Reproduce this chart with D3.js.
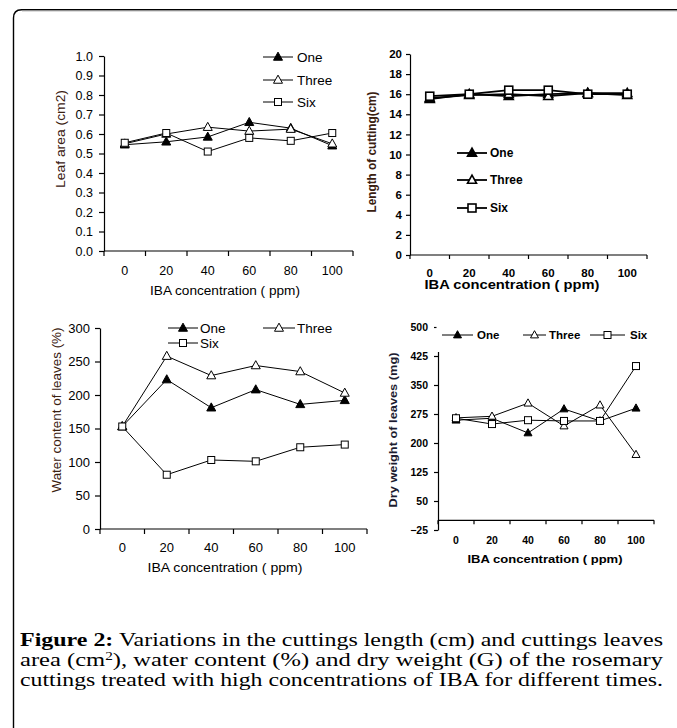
<!DOCTYPE html>
<html>
<head>
<meta charset="utf-8">
<script src="https://cdn.jsdelivr.net/npm/d3@7"></script>
<style>
  html, body { margin: 0; padding: 0; background: #fff; }
  svg { display: block; }
</style>
</head>
<body>
<svg id="fig" width="677" height="728"></svg>
<script>
// IBA concentrations (ppm) and treatment durations
const concentrations = ["0", "20", "40", "60", "80", "100"];
const seriesNames = ["One", "Three", "Six"];

// Leaf area (cm2)
const leafAreaOne   = [0.545, 0.56, 0.585, 0.66, 0.63, 0.54];
const leafAreaThree = [0.55, 0.60, 0.635, 0.615, 0.625, 0.55];
const leafAreaSix   = [0.555, 0.605, 0.51, 0.58, 0.565, 0.605];
const leafAreaTicks = [0, 0.1, 0.2, 0.3, 0.4, 0.5, 0.6, 0.7, 0.8, 0.9, 1.0];

// Length of cutting (cm)
const lengthOne   = [15.5, 16.0, 15.8, 16.0, 16.1, 15.9];
const lengthThree = [15.6, 15.9, 16.0, 15.8, 16.1, 16.1];
const lengthSix   = [15.8, 16.0, 16.4, 16.4, 16.0, 16.0];
const lengthTicks = [0, 2, 4, 6, 8, 10, 12, 14, 16, 18, 20];

// Water content of leaves (%)
const waterOne   = [153, 223, 181, 208, 186, 192];
const waterThree = [153, 258, 229, 244, 235, 203];
const waterSix   = [153, 81, 103, 101, 122, 126];
const waterTicks = [0, 50, 100, 150, 200, 250, 300];

// Dry weight of leaves (mg)
const dryOne   = [259, 264, 226, 288, 257, 290];
const dryThree = [265, 269, 303, 244, 298, 170];
const drySix   = [264, 249, 259, 257, 257, 399];
const dryTicks = [-25, 50, 125, 200, 275, 350, 425, 500];

const svg = d3.select("#fig");
const SANS = "'Liberation Sans', Arial, sans-serif";

// Page frame: left and top rules with a rounded corner
svg.append("path")
  .attr("d", "M13.5,728 V18 Q13.5,9.75 21.5,9.75 H677")
  .attr("fill", "none").attr("stroke", "#000").attr("stroke-width", 1.4);
svg.append("line").attr("x1", 22).attr("x2", 677).attr("y1", 11).attr("y2", 11)
  .attr("stroke", "#aaa").attr("stroke-width", 0.8);

function marker(g, kind, cx, cy, s) {
  if (kind === "One" || kind === "Three") {
    const w = s.tri, h = s.tri * 0.9;
    g.append("path")
      .attr("d", `M${cx},${cy - h * 0.6} L${cx + w / 2},${cy + h * 0.4} L${cx - w / 2},${cy + h * 0.4} Z`)
      .attr("fill", kind === "One" ? "#000" : "#fff")
      .attr("stroke", "#000").attr("stroke-width", s.mw);
  } else {
    g.append("rect")
      .attr("x", cx - s.sq / 2).attr("y", cy - s.sq / 2)
      .attr("width", s.sq).attr("height", s.sq)
      .attr("fill", "#fff").attr("stroke", "#000").attr("stroke-width", s.mw);
  }
}

function drawPanel(o) {
  const g = svg.append("g");
  const x = d3.scaleBand().domain(concentrations).range([o.x0, o.x1]);
  const bw = x.bandwidth();
  const y = d3.scaleLinear().domain(o.yDomain).range([o.yBottom, o.yTop]);
  const axisY = y(o.xCross);
  const weight = o.bold ? "bold" : "normal";

  // series lines and markers
  const line = d3.line().x((d, i) => x(concentrations[i]) + bw / 2).y(d => y(d));
  o.series.forEach((vals, k) => {
    g.append("path").attr("d", line(vals)).attr("fill", "none")
      .attr("stroke", "#000").attr("stroke-width", o.lw);
  });
  o.series.forEach((vals, k) => {
    vals.forEach((v, i) => marker(g, seriesNames[k], x(concentrations[i]) + bw / 2, y(v), o));
  });

  // y axis
  const ya = g.append("g").attr("transform", `translate(${o.x0},0)`)
    .call(d3.axisLeft(y).tickValues(o.ticks).tickSize(o.tickLen).tickSizeOuter(0)
      .tickPadding(o.pad).tickFormat(o.fmt));
  ya.select(".domain").attr("stroke", "#000").attr("stroke-width", 1.2);
  ya.selectAll(".tick line").attr("stroke", "#000").attr("stroke-width", 1.2);
  ya.selectAll(".tick text").attr("font-family", SANS).attr("font-size", o.fs)
    .attr("font-weight", weight).attr("fill", "#000");
  ya.attr("font-family", null).attr("font-size", null);

  if (o.legendBox) {
    // legend box sits over the top of the axis
    g.append("rect").attr("x", o.legendBox[0]).attr("y", o.legendBox[1])
      .attr("width", o.legendBox[2]).attr("height", o.legendBox[3]).attr("fill", "#fff");
  }

  // x axis: ticks at category boundaries, labels at centres
  g.append("line").attr("x1", o.x0).attr("x2", o.x1).attr("y1", axisY).attr("y2", axisY)
    .attr("stroke", "#000").attr("stroke-width", 1.2);
  const bounds = concentrations.map(c => x(c)).concat([o.x1]);
  g.selectAll(null).data(bounds).enter().append("line")
    .attr("x1", d => d).attr("x2", d => d).attr("y1", axisY).attr("y2", axisY + o.tickLen)
    .attr("stroke", "#000").attr("stroke-width", 1.2);
  g.selectAll(null).data(concentrations).enter().append("text")
    .attr("x", d => x(d) + bw / 2).attr("y", o.xLabelY)
    .attr("text-anchor", "middle").attr("font-family", SANS).attr("font-size", o.fs)
    .attr("font-weight", weight).text(d => d);

  // axis titles
  g.append("text").attr("x", o.xTitle[0]).attr("y", o.xTitle[1])
    .attr("text-anchor", "middle").attr("font-family", SANS).attr("font-size", o.tfs)
    .attr("font-weight", weight)
    .attr("textLength", o.xTitle[2]).attr("lengthAdjust", "spacingAndGlyphs")
    .text("IBA concentration ( ppm)");
  g.append("text")
    .attr("transform", `translate(${o.yTitle[0]},${o.yTitle[1]}) rotate(-90)`)
    .attr("text-anchor", "middle").attr("dominant-baseline", "central")
    .attr("font-family", SANS).attr("font-size", o.tfs).attr("font-weight", weight)
    .attr("fill", o.yTitleColor)
    .attr("textLength", o.yTitle[2]).attr("lengthAdjust", "spacingAndGlyphs")
    .text(o.yLabel);

  // legend entries
  o.legend.forEach((L, k) => {
    g.append("line").attr("x1", L[0]).attr("x2", L[1]).attr("y1", L[2]).attr("y2", L[2])
      .attr("stroke", "#000").attr("stroke-width", o.lw);
    marker(g, seriesNames[k], (L[0] + L[1]) / 2, L[2], o);
    g.append("text").attr("x", L[3]).attr("y", L[2]).attr("dominant-baseline", "central")
      .attr("font-family", SANS).attr("font-size", o.lfs).attr("font-weight", weight)
      .text(seriesNames[k]);
  });
}

// Leaf area
drawPanel({
  x0: 104, x1: 353, yTop: 56, yBottom: 251, yDomain: [0, 1], xCross: 0,
  ticks: leafAreaTicks, fmt: d3.format(".1f"), tickLen: 5, pad: 6,
  series: [leafAreaOne, leafAreaThree, leafAreaSix],
  fs: 12.5, tfs: 12.5, lfs: 13.5, bold: false, lw: 1, mw: 1, tri: 9, sq: 7,
  xLabelY: 275, xTitle: [225, 295, 150], yTitle: [61, 139, 98], yTitleColor: "#3a2010",
  yLabel: "Leaf area (cm2)",
  legend: [[263, 293, 57, 297], [263, 293, 80, 297], [263, 293, 102, 297]]
});

// Length of cutting
drawPanel({
  x0: 410, x1: 647, yTop: 54, yBottom: 255, yDomain: [0, 20], xCross: 0,
  ticks: lengthTicks, fmt: d3.format("d"), tickLen: 4, pad: 4,
  series: [lengthOne, lengthThree, lengthSix],
  fs: 11.5, tfs: 12, lfs: 12, bold: true, lw: 1.8, mw: 1.6, tri: 9, sq: 8,
  xLabelY: 277, xTitle: [512, 289, 175], yTitle: [372, 152, 121], yTitleColor: "#3a2010",
  yLabel: "Length of cutting(cm)",
  legend: [[457, 487, 153, 490], [457, 487, 180, 490], [457, 487, 208, 490]]
});

// Water content of leaves
drawPanel({
  x0: 100, x1: 367, yTop: 328, yBottom: 529, yDomain: [0, 300], xCross: 0,
  ticks: waterTicks, fmt: d3.format("d"), tickLen: 5, pad: 5,
  series: [waterOne, waterThree, waterSix],
  fs: 13, tfs: 12.5, lfs: 13.5, bold: false, lw: 1, mw: 1, tri: 9, sq: 7,
  xLabelY: 552, xTitle: [225, 572, 155], yTitle: [57, 410, 165], yTitleColor: "#3a2010",
  yLabel: "Water content of leaves (%)",
  legend: [[168, 198, 328, 200], [263, 295, 328, 297], [168, 198, 343, 200]]
});

// Dry weight of leaves
drawPanel({
  x0: 438, x1: 654, yTop: 327, yBottom: 530, yDomain: [-25, 500], xCross: 0,
  ticks: dryTicks, fmt: d3.format("d"), tickLen: 4, pad: 6,
  series: [dryOne, dryThree, drySix],
  fs: 10.5, tfs: 11.5, lfs: 11.5, bold: true, lw: 1, mw: 1, tri: 8, sq: 7,
  xLabelY: 544, xTitle: [545, 563, 155], yTitle: [393, 430, 155], yTitleColor: "#1c1c30",
  yLabel: "Dry weight of leaves (mg)",
  legendBox: [436.5, 318, 220, 34],
  legend: [[442, 473, 335, 477], [523, 546, 335, 549], [590, 625, 335, 630]]
});

// Caption, each line justified to the full text width
const captionLines = [
  [["Figure 2:", true], [" Variations in the cuttings length (cm) and cuttings leaves", false]],
  [["area (cm", false], ["2", "sup"], ["), water content (%) and dry weight (G) of the rosemary", false]],
  [["cuttings treated with high concentrations of IBA for different times.", false]]
];
const cap = svg.append("g").attr("font-family", "'Liberation Serif', 'Times New Roman', serif")
  .attr("font-size", 18.5).attr("fill", "#000");
captionLines.forEach((parts, i) => {
  const t = cap.append("text").attr("x", 20).attr("y", 646 + i * 20)
    .attr("textLength", 643).attr("lengthAdjust", "spacingAndGlyphs");
  parts.forEach(p => {
    const ts = t.append("tspan").text(p[0]);
    if (p[1] === true) ts.attr("font-weight", "bold");
    if (p[1] === "sup") ts.attr("font-size", 11.5).attr("dy", -6.5);
    else if (parts.some(q => q[1] === "sup") && p[0].startsWith(")")) ts.attr("dy", 6.5);
  });
});
</script>
</body>
</html>
